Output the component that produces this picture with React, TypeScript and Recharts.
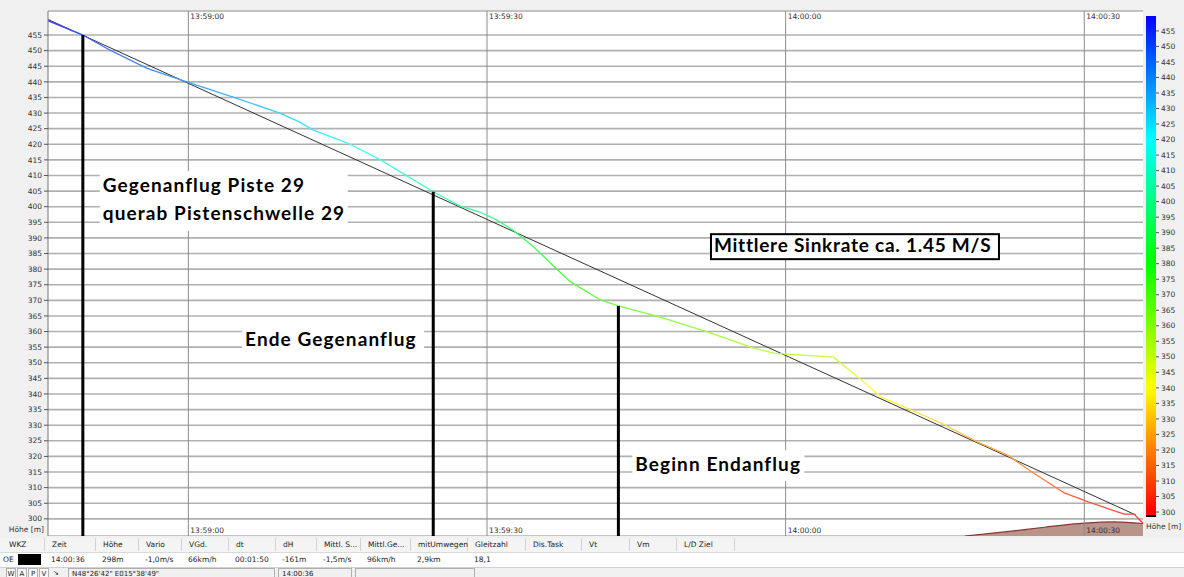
import React from "react";
import {
  ComposedChart,
  BarChart,
  Bar,
  Line,
  Area,
  XAxis,
  YAxis,
  CartesianGrid,
  ReferenceLine,
  ReferenceDot,
} from "recharts";

// Barogram of the approach, time in seconds after 13:59:00, altitude in m
const traceTime = [
  -14.1, -10.6, -7.9, -4.2, -0.1, 4.5, 9.2, 11.2, 12.5, 16.0, 19.3, 24.6, 27.3,
  29.3, 31.0, 32.6, 34.7, 37.1, 38.4, 41.4, 43.2, 47.4, 52.5, 56.8, 58.8, 60.0,
  64.8, 67.3, 69.6, 72.6, 75.6, 79.3, 82.3, 84.9, 88.0, 90.4, 94.0, 95.0, 95.9,
];
const traceAlt = [
  459.6, 455.0, 450.2, 444.4, 439.9, 435.1, 430.0, 427.1, 424.6, 420.4, 415.0,
  404.8, 400.2, 398.3, 395.7, 392.5, 387.1, 379.7, 375.9, 370.1, 368.2, 364.6,
  359.5, 354.7, 353.1, 352.8, 351.8, 345.4, 339.0, 334.9, 330.7, 324.6, 320.4,
  314.7, 308.3, 305.4, 301.5, 301.5, 298.6,
];

// straight glide line (mean sink rate)
const meanTime = [-14.1, 95.2];
const meanAlt = [460.0, 301.2];

// terrain under the final part
const groundTime = [78.0, 82.0, 86.0, 90.0, 93.0, 95.9];
const groundAlt = [294.5, 295.8, 297.3, 298.6, 299.0, 298.5];

// points marked on the trace
const markerTime = [-10.6, 24.6, 43.2];
const markerAlt = [455.0, 404.8, 368.2];

const timeTicks = [0, 30, 60, 90];
const timeLabels = ["13:59:00", "13:59:30", "14:00:00", "14:00:30"];

const altTicks = [
  300, 305, 310, 315, 320, 325, 330, 335, 340, 345, 350, 355, 360, 365, 370, 375,
  380, 385, 390, 395, 400, 405, 410, 415, 420, 425, 430, 435, 440, 445, 450, 455,
];

// colour scale range
const scaleSpan = [{ k: "Höhe", span: [298.4, 459.8] }];

const notes = [
  { t: -8.9, a: 411.4, w: 248, h: 60, lines: ["Gegenanflug Piste 29", "querab Pistenschwelle 29"], framed: false },
  { t: 5.4, a: 362.1, w: 182, h: 29, lines: ["Ende Gegenanflug"], framed: false },
  { t: 44.6, a: 322.0, w: 172, h: 31, lines: ["Beginn Endanflug"], framed: false },
  { t: 52.5, a: 391.2, w: 288, h: 25, lines: ["Mittlere Sinkrate ca. 1.45 M/S"], framed: true },
];

const headerLabels = [
  "WKZ", "Zeit", "Höhe", "Vario", "VGd.", "dt", "dH", "Mittl. S...", "Mittl.Ge...",
  "mitUmwegen", "Gleitzahl", "Dis.Task", "Vt", "Vm", "L/D Ziel",
];
const rowValues = [
  "OE", "14:00:36", "298m", "-1,0m/s", "66km/h", "00:01:50", "-161m", "-1,5m/s",
  "96km/h", "2,9km", "18,1", "", "", "", "",
];
const statusButtons = ["W", "A", "P", "V"];
const statusPosition = "N48°26'42\" E015°38'49\"";
const statusTime = "14:00:36";

const COL_EDGES = [0, 46, 97, 140, 183, 230, 277, 318, 362, 412, 469, 527, 583, 631, 678, 736];

const X_DOMAIN: [number, number] = [-14.1, 95.9];
const Y_DOMAIN: [number, number] = [294.5, 462.7];
const PLOT_TOP = 11;
const PLOT_BOTTOM = 536;
const SMALL = 7.5;

const traceData = traceTime.map((t, i) => ({ t, alt: traceAlt[i] }));
const meanData = meanTime.map((t, i) => ({ t, alt: meanAlt[i] }));
const groundData = groundTime.map((t, i) => ({ t, alt: groundAlt[i] }));

const hueOf = (alt: number) => Math.max(0, Math.min(240, (alt - 300) * 1.5));
const levels = Array.from({ length: 17 }, (_, i) => 460 - i * 10);

// vertical colour stops between top and lowest, offsets relative to top..bottom
const gradStops = (top: number, bottom: number, lowest: number, light: number) =>
  [top, ...levels.filter((a) => a < top && a > lowest), lowest].map((a) => (
    <stop
      key={a}
      offset={(top - a) / (top - bottom)}
      stopColor={`hsl(${hueOf(a)}, 100%, ${light}%)`}
    />
  ));

// time stamp written at the top and at the bottom of each time line
const TimeTag = (props: any) => {
  const { viewBox, text } = props;
  if (!viewBox) return null;
  const { x, y, height } = viewBox;
  return (
    <g fontSize={SMALL} fill="#333">
      <text x={x + 2} y={y + 8}>{text}</text>
      <text x={x + 2} y={y + height - 3}>{text}</text>
    </g>
  );
};

const NoteBox = (props: any) => {
  const { cx, cy, note } = props;
  return (
    <g>
      <rect
        x={cx}
        y={cy}
        width={note.w}
        height={note.h}
        fill="#fff"
        stroke={note.framed ? "#000" : "none"}
        strokeWidth={2}
      />
      {note.lines.map((s: string, i: number) => (
        <text
          key={s}
          x={cx + 3}
          y={cy + (note.framed ? 18 : 21) + i * 28}
          fontFamily="Lato"
          fontWeight={700}
          fontSize={19}
          letterSpacing={note.framed ? 0.75 : 1.1}
          fill="#000"
        >
          {s}
        </text>
      ))}
    </g>
  );
};

const maxAlt = Math.max(...traceAlt);
const minAlt = Math.min(...traceAlt);
const [scaleLow, scaleHigh] = scaleSpan[0].span;

const fieldStyle: React.CSSProperties = {
  position: "absolute",
  top: 0,
  height: 9,
  border: "1px solid #b0b0b0",
  borderBottom: "none",
  paddingLeft: 3,
  lineHeight: "10px",
  boxSizing: "border-box",
  whiteSpace: "nowrap",
};

export default function App() {
  return (
    <div
      style={{
        position: "absolute",
        left: 0,
        top: 0,
        width: 1184,
        height: 577,
        background: "#f0f0f0",
        overflow: "hidden",
        fontFamily: "'DejaVu Sans', sans-serif",
        color: "#222",
      }}
    >
      <div style={{ position: "absolute", left: 0, top: 0 }}>
        <ComposedChart
          width={1144}
          height={PLOT_BOTTOM}
          margin={{ top: PLOT_TOP, right: 1, bottom: 0, left: 0 }}
        >
          <defs>
            <linearGradient id="traceGrad" x1="0" y1="0" x2="0" y2="1">
              {gradStops(maxAlt, minAlt, minAlt, 62)}
            </linearGradient>
          </defs>
          <CartesianGrid fill="#fff" vertical={false} stroke="#b0b0b0" strokeWidth={1.6} />
          <XAxis
            type="number"
            dataKey="t"
            domain={X_DOMAIN}
            ticks={timeTicks}
            allowDataOverflow
            height={0}
            tick={false}
            tickLine={false}
            axisLine={false}
          />
          <YAxis
            type="number"
            domain={Y_DOMAIN}
            ticks={altTicks}
            allowDataOverflow
            interval={0}
            width={48}
            tickSize={4}
            tickMargin={2}
            tick={{ fontSize: SMALL, fill: "#333" }}
            tickLine={{ stroke: "#555" }}
            axisLine={{ stroke: "#777" }}
            label={{
              value: "Höhe [m]",
              position: "insideBottomRight",
              offset: 4,
              fontSize: SMALL,
              fill: "#333",
            }}
          />
          {timeTicks.map((t, i) => (
            <ReferenceLine
              key={`time-${t}`}
              x={t}
              stroke="#8c8c8c"
              strokeWidth={1}
              label={<TimeTag text={timeLabels[i]} />}
            />
          ))}
          <Area
            data={groundData}
            dataKey="alt"
            type="monotone"
            baseValue={Y_DOMAIN[0]}
            fill="#b8948b"
            fillOpacity={1}
            stroke="#8b3434"
            strokeWidth={1.2}
            isAnimationActive={false}
          />
          <Line
            data={meanData}
            dataKey="alt"
            type="linear"
            stroke="#333"
            strokeWidth={1}
            dot={false}
            isAnimationActive={false}
          />
          <Line
            data={traceData}
            dataKey="alt"
            type="linear"
            stroke="url(#traceGrad)"
            strokeWidth={1.3}
            dot={false}
            isAnimationActive={false}
          />
          {markerTime.map((t, i) => (
            <ReferenceLine
              key={t}
              segment={[
                { x: t, y: markerAlt[i] },
                { x: t, y: Y_DOMAIN[0] },
              ]}
              stroke="#000"
              strokeWidth={3}
            />
          ))}
          {notes.map((n) => (
            <ReferenceDot
              key={n.lines[0]}
              x={n.t}
              y={n.a}
              r={0}
              shape={(p: any) => <NoteBox {...p} note={n} />}
            />
          ))}
        </ComposedChart>
      </div>

      <div style={{ position: "absolute", left: 1144, top: 0 }}>
        <BarChart
          width={40}
          height={PLOT_BOTTOM}
          data={scaleSpan}
          margin={{ top: 16, right: 0, bottom: 0, left: 2 }}
          barCategoryGap={0}
        >
          <defs>
            <linearGradient id="scaleGrad" x1="0" y1="0" x2="0" y2="1">
              {gradStops(scaleHigh, scaleLow, 299.2, 50)}
              <stop offset={(scaleHigh - 299.2) / (scaleHigh - scaleLow)} stopColor="#000" />
              <stop offset={1} stopColor="#000" />
            </linearGradient>
          </defs>
          <XAxis
            dataKey="k"
            height={19}
            tick={false}
            tickLine={false}
            axisLine={false}
            label={{ value: "Höhe [m]", position: "insideLeft", offset: 0, fontSize: SMALL, fill: "#333" }}
          />
          <YAxis
            orientation="right"
            type="number"
            domain={[scaleLow, scaleHigh]}
            ticks={altTicks}
            allowDataOverflow
            interval={0}
            width={28}
            tickSize={3}
            tickMargin={2}
            axisLine={false}
            tickLine={{ stroke: "#555" }}
            tick={{ fontSize: SMALL, fill: "#333", textAnchor: "start" }}
          />
          <Bar dataKey="span" fill="url(#scaleGrad)" isAnimationActive={false} />
        </BarChart>
      </div>

      {/* flight data table */}
      <div
        style={{
          position: "absolute",
          left: 0,
          top: 538,
          width: 1184,
          height: 14,
          background: "#f4f4f4",
          borderBottom: "1px solid #dadada",
          fontSize: SMALL,
        }}
      >
        {headerLabels.map((h, i) => (
          <div
            key={h}
            style={{
              position: "absolute",
              left: COL_EDGES[i],
              width: COL_EDGES[i + 1] - COL_EDGES[i] - 1,
              height: 13,
              lineHeight: "13px",
              borderRight: "1px solid #d2d2d2",
              paddingLeft: i === 0 ? 9 : 6,
              boxSizing: "border-box",
              whiteSpace: "nowrap",
            }}
          >
            {h}
          </div>
        ))}
      </div>
      <div
        style={{
          position: "absolute",
          left: 0,
          top: 553,
          width: 1184,
          height: 14,
          background: "#fff",
          borderBottom: "1px solid #d0d0d0",
          fontSize: SMALL,
        }}
      >
        {rowValues.map((v, i) => (
          <div
            key={i}
            style={{
              position: "absolute",
              left: COL_EDGES[i] + (i === 0 ? 3 : 5),
              height: 14,
              lineHeight: "13px",
              whiteSpace: "nowrap",
            }}
          >
            {v}
          </div>
        ))}
        <div style={{ position: "absolute", left: 18, top: 1, width: 23, height: 11, background: "#000" }} />
      </div>

      {/* status bar */}
      <div style={{ position: "absolute", left: 0, top: 568, width: 1184, height: 9, fontSize: 7 }}>
        {statusButtons.map((b, i) => (
          <div
            key={b}
            style={{ ...fieldStyle, left: 6 + i * 11, width: 10, paddingLeft: 0, textAlign: "center", background: "#f8f8f8" }}
          >
            {b}
          </div>
        ))}
        <div style={{ position: "absolute", left: 53, top: 0, lineHeight: "10px" }}>↘</div>
        <div style={{ ...fieldStyle, left: 68, width: 207 }}>{statusPosition}</div>
        <div style={{ ...fieldStyle, left: 278, width: 74 }}>{statusTime}</div>
        <div style={{ ...fieldStyle, left: 355, width: 120 }} />
      </div>
    </div>
  );
}
